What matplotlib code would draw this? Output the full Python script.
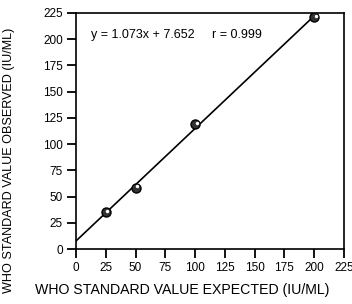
import numpy as np
import matplotlib.pyplot as plt

plt.rcParams['font.family'] = ['Liberation Sans', 'DejaVu Sans']

# Data
expected = np.array([25, 50, 100, 200])
observed = np.array([35, 58, 119, 221])
slope, intercept, r_value = 1.073, 7.652, 0.999
ticks = np.arange(0, 226, 25)

W, H = 352, 304
fig = plt.figure(figsize=(W / 100, H / 100), dpi=100)
ax = fig.add_axes([76 / W, 1 - 249 / H, 268 / W, 236 / H])

# Fitted line
xfit = np.array([0, 200])
ax.plot(xfit, slope * xfit + intercept, color='black', linewidth=1.2, zorder=2)

# Measured points
ax.plot(expected, observed, 'o', markersize=6.5, markerfacecolor='#333333',
        markeredgecolor='black', markeredgewidth=1.0, zorder=3)
ax.plot(expected + 1.3, observed + 1.6, 'o', markersize=2.5, markerfacecolor='white',
        markeredgecolor='none', zorder=4)

# Equation and correlation
fig.text(91 / W, 1 - 35 / H, 'y = %.3fx + %.3f' % (slope, intercept),
         fontsize=9, va='center', ha='left')
fig.text(212 / W, 1 - 35 / H, 'r = %.3f' % r_value,
         fontsize=9, va='center', ha='left')

ax.set_xlim(0, 225)
ax.set_ylim(0, 225)
ax.set_xticks(ticks)
ax.set_yticks(ticks)
ax.tick_params(direction='out', length=6.5, width=1.3, labelsize=8.5, pad=3,
               top=False, right=False)
for s in ax.spines.values():
    s.set_linewidth(1.2)

fig.text(182 / W, 1 - 290 / H, 'WHO STANDARD VALUE EXPECTED (IU/ML)',
         fontsize=10.2, ha='center', va='center')
fig.text(9 / W, 1 - 160 / H, 'WHO STANDARD VALUE OBSERVED (IU/ML)',
         fontsize=9.1, ha='center', va='center', rotation=90)

fig.savefig('out.png', dpi=100)
